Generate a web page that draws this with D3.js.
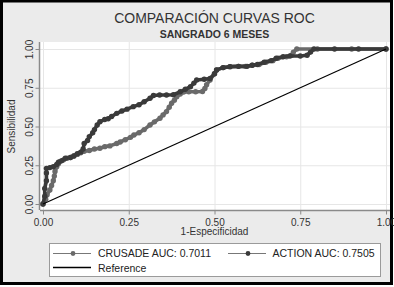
<!DOCTYPE html>
<html>
<head>
<meta charset="utf-8">
<script src="https://cdn.jsdelivr.net/npm/d3@7"></script>
<style>
	body { margin: 0; background: #fff; }
	svg { display: block; font-family: "Liberation Sans", Arial, sans-serif; }
</style>
</head>
<body>
<div id="graphic"></div>
<script>
// ROC points: [1-specificity, sensitivity]
const crusadePoints = [
	[0, 0], [0.008, 0.03], [0.012, 0.06], [0.02, 0.09], [0.025, 0.12], [0.03, 0.15], [0.033, 0.18],
	[0.035, 0.21], [0.04, 0.24], [0.045, 0.26], [0.05, 0.275], [0.06, 0.285], [0.07, 0.295],
	[0.08, 0.30], [0.09, 0.31], [0.10, 0.32], [0.11, 0.33], [0.12, 0.34], [0.135, 0.345],
	[0.15, 0.355], [0.166, 0.36], [0.18, 0.37], [0.195, 0.375], [0.215, 0.39], [0.225, 0.40],
	[0.24, 0.415], [0.255, 0.43], [0.265, 0.445], [0.28, 0.46], [0.295, 0.48], [0.312, 0.51],
	[0.325, 0.53], [0.341, 0.553], [0.35, 0.575], [0.36, 0.596], [0.368, 0.625], [0.375, 0.65],
	[0.383, 0.67], [0.39, 0.692], [0.40, 0.71], [0.41, 0.722], [0.425, 0.724], [0.445, 0.724],
	[0.465, 0.726], [0.472, 0.745], [0.477, 0.77], [0.487, 0.80], [0.50, 0.84], [0.506, 0.865],
	[0.525, 0.88], [0.545, 0.886], [0.57, 0.888], [0.59, 0.888], [0.61, 0.895], [0.63, 0.90],
	[0.65, 0.915], [0.67, 0.925], [0.685, 0.94], [0.71, 0.95], [0.725, 0.96], [0.73, 0.98],
	[0.74, 1.0], [0.8, 1], [0.9, 1], [1, 1]
];
const actionPoints = [
	[0, 0], [0.005, 0.05], [0.005, 0.10], [0.01, 0.15], [0.01, 0.20], [0.01, 0.23], [0.02, 0.235],
	[0.03, 0.24], [0.04, 0.255], [0.045, 0.27], [0.055, 0.28], [0.065, 0.295], [0.08, 0.30],
	[0.09, 0.31], [0.10, 0.325], [0.11, 0.335], [0.117, 0.355], [0.12, 0.39], [0.13, 0.41],
	[0.135, 0.435], [0.145, 0.46], [0.15, 0.48], [0.158, 0.51], [0.166, 0.531], [0.18, 0.545],
	[0.19, 0.55], [0.20, 0.565], [0.215, 0.585], [0.23, 0.60], [0.245, 0.612], [0.263, 0.628],
	[0.28, 0.64], [0.295, 0.66], [0.312, 0.682], [0.322, 0.70], [0.34, 0.703], [0.36, 0.703],
	[0.38, 0.705], [0.40, 0.724], [0.415, 0.74], [0.43, 0.757], [0.44, 0.78], [0.448, 0.80],
	[0.47, 0.805], [0.487, 0.81], [0.50, 0.84], [0.506, 0.865], [0.525, 0.88], [0.545, 0.886],
	[0.57, 0.888], [0.595, 0.888], [0.61, 0.895], [0.625, 0.90], [0.645, 0.915], [0.665, 0.925],
	[0.68, 0.94], [0.70, 0.95], [0.72, 0.955], [0.75, 0.955], [0.77, 0.96], [0.78, 0.98],
	[0.79, 1.0], [0.85, 1], [0.92, 1], [1, 1]
];
const referencePoints = [[0, 0], [1, 1]];
const tickValues = [0, 0.25, 0.5, 0.75, 1];
const legendLabels = ['CRUSADE AUC: 0.7011', 'ACTION AUC: 0.7505', 'Reference'];
const seriesColours = ['#6a6a6a', '#3a3a3a', '#000000'];

const width = 394, height = 287;
const plot = { left: 40, right: 390, top: 42, bottom: 210 };

const svg = d3.select('#graphic').append('svg')
	.attr('width', width)
	.attr('height', height);

// outer frame
svg.append('rect')
	.attr('x', 1.5).attr('y', 1).attr('width', 390).attr('height', 282.5)
	.attr('fill', '#ebebeb').attr('stroke', '#000').attr('stroke-width', 3);

// plot region
svg.append('rect')
	.attr('x', plot.left).attr('y', plot.top)
	.attr('width', plot.right - plot.left).attr('height', plot.bottom - plot.top)
	.attr('fill', '#fff');

const x = d3.scaleLinear().domain([0, 1]).range([43, 386]);
const y = d3.scaleLinear().domain([0, 1]).range([204, 49]);

// grid lines
svg.append('g').attr('class', 'grid')
	.selectAll('line.h').data(tickValues).join('line')
	.attr('x1', plot.left).attr('x2', plot.right)
	.attr('y1', d => y(d) + 0.5).attr('y2', d => y(d) + 0.5)
	.attr('stroke', '#e6e6e6').attr('stroke-width', 1);
svg.append('g').attr('class', 'grid')
	.selectAll('line.v').data(tickValues).join('line')
	.attr('y1', plot.top).attr('y2', plot.bottom)
	.attr('x1', d => x(d) + 0.5).attr('x2', d => x(d) + 0.5)
	.attr('stroke', '#e6e6e6').attr('stroke-width', 1);

// y axis
const yAxis = svg.append('g').attr('class', 'y axis')
	.attr('transform', `translate(${plot.left - 0.5},0)`)
	.call(d3.axisLeft(y).tickValues(tickValues).tickSize(4).tickPadding(3).tickFormat(d3.format('.2f')));
yAxis.select('.domain').attr('d', `M0,${plot.top}V${plot.bottom}`).attr('stroke', '#8a8a8a').attr('stroke-width', 1.5);
yAxis.selectAll('.tick line').attr('stroke', '#8a8a8a');
yAxis.selectAll('.tick text')
	.attr('font-size', 10).attr('fill', '#333')
	.attr('x', null).attr('dy', null)
	.attr('text-anchor', 'middle')
	.attr('transform', 'translate(-7,0) rotate(-90)');

// x axis
const xAxis = svg.append('g').attr('class', 'x axis')
	.attr('transform', `translate(0,${plot.bottom + 0.5})`)
	.call(d3.axisBottom(x).tickValues(tickValues).tickSize(4).tickPadding(4).tickFormat(d3.format('.2f')));
xAxis.select('.domain').attr('d', `M${plot.left},0H${plot.right}`).attr('stroke', '#8a8a8a').attr('stroke-width', 1.5);
xAxis.selectAll('.tick line').attr('stroke', '#8a8a8a');
xAxis.selectAll('.tick text').attr('font-size', 10).attr('fill', '#333');

// axis titles
svg.append('text')
	.attr('transform', `translate(15,${(y(0) + y(1)) / 2}) rotate(-90)`)
	.attr('text-anchor', 'middle').attr('font-size', 10).attr('fill', '#333')
	.text('Sensibilidad');
svg.append('text')
	.attr('x', (x(0) + x(1)) / 2).attr('y', 235)
	.attr('text-anchor', 'middle').attr('font-size', 10).attr('fill', '#333')
	.text('1-Especificidad');

// titles
svg.append('text')
	.attr('x', (x(0) + x(1)) / 2).attr('y', 23)
	.attr('text-anchor', 'middle').attr('font-size', 14).attr('fill', '#333')
	.text('COMPARACIÓN CURVAS ROC');
svg.append('text')
	.attr('x', (x(0) + x(1)) / 2).attr('y', 37.5)
	.attr('text-anchor', 'middle').attr('font-size', 10.5).attr('font-weight', 'bold').attr('fill', '#333')
	.text('SANGRADO 6 MESES');

// curves
const line = d3.line().x(d => x(d[0])).y(d => y(d[1]));

[crusadePoints, actionPoints].forEach((pts, i) => {
	svg.append('path')
		.datum(pts)
		.attr('fill', 'none')
		.attr('stroke', seriesColours[i])
		.attr('stroke-width', 3.6)
		.attr('stroke-linejoin', 'round')
		.attr('d', line);
	svg.append('g')
		.selectAll('circle').data(pts).join('circle')
		.attr('cx', d => x(d[0])).attr('cy', d => y(d[1]))
		.attr('r', 2.7)
		.attr('fill', seriesColours[i]);
});

svg.append('path')
	.datum(referencePoints)
	.attr('fill', 'none')
	.attr('stroke', seriesColours[2])
	.attr('stroke-width', 1.2)
	.attr('d', line);

// legend
const legend = svg.append('g').attr('class', 'legend');
legend.append('rect')
	.attr('x', 49.5).attr('y', 243.5).attr('width', 331).attr('height', 33)
	.attr('fill', '#fff').attr('stroke', '#9a9a9a').attr('stroke-width', 1);

const legendItems = [
	{ label: legendLabels[0], colour: seriesColours[0], dot: true, lx: 53, ly: 253.5, tx: 98, ty: 257.3 },
	{ label: legendLabels[1], colour: seriesColours[1], dot: true, lx: 228, ly: 253.5, tx: 272.5, ty: 257.3 },
	{ label: legendLabels[2], colour: seriesColours[2], dot: false, lx: 53, ly: 267.5, tx: 98, ty: 271.5 }
];
legendItems.forEach(d => {
	legend.append('line')
		.attr('x1', d.lx).attr('x2', d.lx + 38)
		.attr('y1', d.ly).attr('y2', d.ly)
		.attr('stroke', d.dot ? '#777' : '#000')
		.attr('stroke-width', d.dot ? 1 : 1.3);
	if (d.dot) {
		legend.append('circle')
			.attr('cx', d.lx + 20).attr('cy', d.ly).attr('r', 2.4)
			.attr('fill', d.colour);
	}
	legend.append('text')
		.attr('x', d.tx).attr('y', d.ty)
		.attr('font-size', 10.5).attr('fill', '#222')
		.text(d.label);
});
</script>
</body>
</html>
